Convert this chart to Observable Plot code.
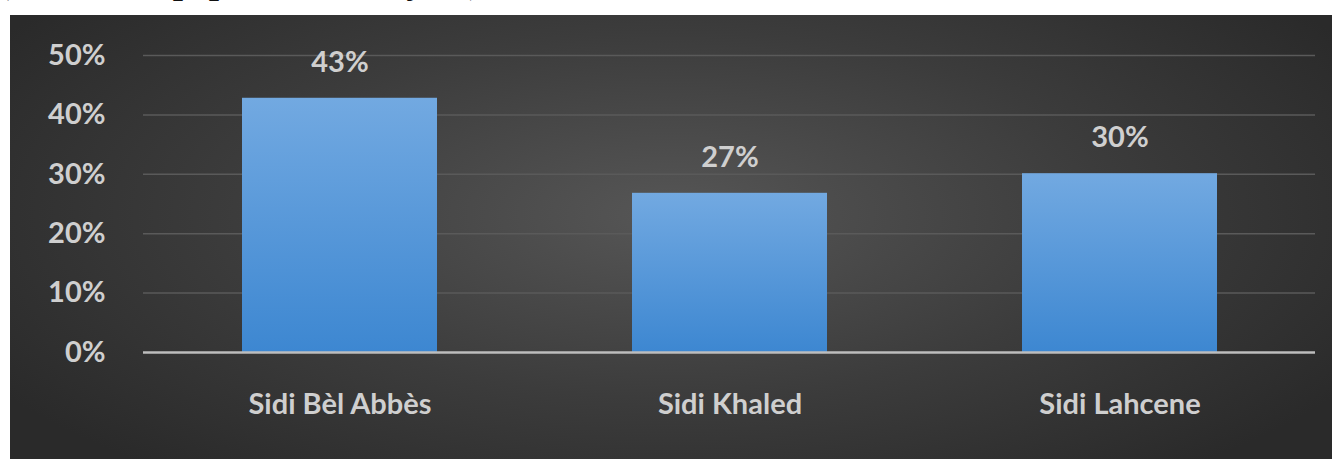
<!DOCTYPE html>
<html>
<head>
<meta charset="utf-8">
<script src="https://cdn.jsdelivr.net/npm/d3@7"></script>
<script src="https://cdn.jsdelivr.net/npm/@observablehq/plot@0.6"></script>
<style>
  html, body { margin: 0; padding: 0; background: #ffffff; width: 1341px; height: 459px; overflow: hidden; }
  #title {
    position: absolute; left: 0; top: 0; width: 1341px; height: 14px; overflow: hidden;
  }
  #title span {
    position: absolute; left: 0; top: -37px; white-space: nowrap;
    font-family: "Liberation Serif", serif; font-weight: bold; font-style: italic;
    font-size: 36px; line-height: 36px; color: #111;
  }
  #panel {
    position: absolute; left: 10px; top: 15px; width: 1322px; height: 444px;
    background: radial-gradient(ellipse 60% 75% at 50% 45%, #565656 0%, #3c3c3c 55%, #2a2a2a 100%);
  }
</style>
</head>
<body>
<div id="title"><span>(Taux de la population analysée)</span></div>
<div id="panel"></div>
<script>
const categories = ["Sidi Bèl Abbès", "Sidi Khaled", "Sidi Lahcene"];
const values = [42.8, 26.8, 30.1];
const valueLabels = ["43%", "27%", "30%"];
const yTicks = [0, 10, 20, 30, 40, 50];

const data = categories.map((c, i) => ({city: c, value: values[i], label: valueLabels[i]}));

const svg = Plot.plot({
  width: 1322,
  height: 444,
  marginLeft: 133,
  marginRight: 17,
  marginTop: 40,
  marginBottom: 107,
  style: {background: "transparent", fontFamily: "Lato, 'Open Sans', sans-serif", fontSize: "29px", fontWeight: "bold", color: "#cfcfcf"},
  x: {domain: categories, paddingInner: 0.5, paddingOuter: 0.25, label: null, tickSize: 0, tickPadding: 41},
  y: {domain: [0, 50], ticks: yTicks, tickFormat: d => d + "%", label: null, tickSize: 0, tickPadding: 38},
  marks: [
    Plot.gridY(yTicks.filter(d => d > 0), {stroke: "#5a5a5a", strokeOpacity: 1, strokeWidth: 1.5}),
    Plot.barY(data, {x: "city", y: "value", fill: "url(#barGrad)"}),
    Plot.ruleY([0], {stroke: "#bdbdbd", strokeWidth: 2.5}),
    Plot.text(data, {x: "city", y: "value", text: "label", dy: -36, fill: "#cfcfcf", fontSize: 29, fontWeight: "bold"})
  ]
});

const defs = d3.select(svg).insert("defs", ":first-child");
const grad = defs.append("linearGradient").attr("id", "barGrad")
  .attr("x1", 0).attr("y1", 0).attr("x2", 0).attr("y2", 1);
grad.append("stop").attr("offset", "0%").attr("stop-color", "#72a9e1");
grad.append("stop").attr("offset", "100%").attr("stop-color", "#3d87d1");

document.getElementById("panel").appendChild(svg);
</script>
</body>
</html>
